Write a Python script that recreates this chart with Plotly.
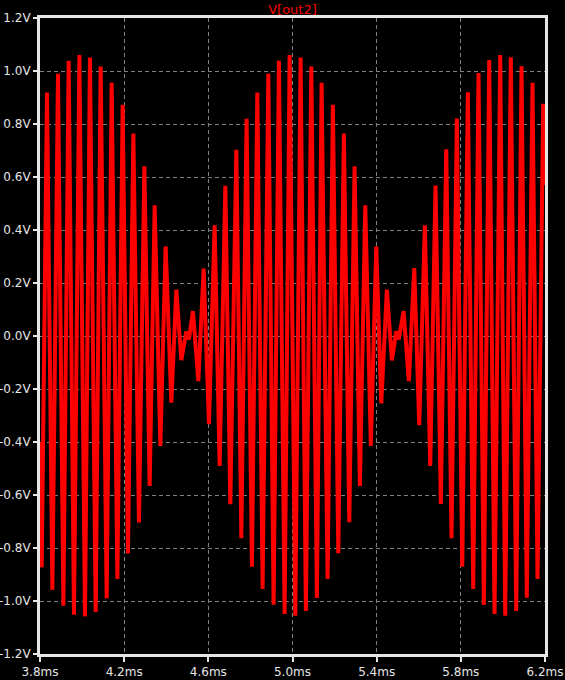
import plotly.graph_objects as go

# Extrema of V(out2) (time in ms, voltage in V)
time_ms = [
    3.8000, 3.8081, 3.8333, 3.8589, 3.8855, 3.9112, 3.9363, 3.9615, 3.9872, 4.0138,
    4.0375, 4.0646, 4.0884, 4.1169, 4.1406, 4.1677, 4.1929, 4.2181, 4.2437, 4.2703,
    4.2960, 4.3211, 4.3449, 4.3720, 4.3971, 4.4242, 4.4480, 4.4717, 4.4955, 4.5078,
    4.5268, 4.5525, 4.5777, 4.6029, 4.6299, 4.6537, 4.6808, 4.7045, 4.7330, 4.7568,
    4.7819, 4.8071, 4.8328, 4.8580, 4.8850, 4.9102, 4.9354, 4.9625, 4.9862, 5.0133,
    5.0385, 5.0637, 5.0893, 5.1159, 5.1382, 5.1667, 5.1919, 5.2176, 5.2442, 5.2698,
    5.2950, 5.3202, 5.3458, 5.3724, 5.3981, 5.4219, 5.4485, 5.4722, 5.4931, 5.5055,
    5.5278, 5.5530, 5.5786, 5.6024, 5.6290, 5.6546, 5.6798, 5.7050, 5.7306, 5.7558,
    5.7810, 5.8067, 5.8333, 5.8589, 5.8841, 5.9093, 5.9349, 5.9601, 5.9872, 6.0109,
    6.0375, 6.0632, 6.0884, 6.1135, 6.1406, 6.1644, 6.1915, 6.2000,
]
v_out2 = [
    -0.400, -0.873, 0.919, -0.958, 0.990, -1.018, 1.039, -1.052, 1.060, -1.058,
    1.051, -1.041, 1.017, -0.990, 0.956, -0.917, 0.873, -0.821, 0.764, -0.704,
    0.640, -0.566, 0.493, -0.415, 0.338, -0.252, 0.175, -0.091, 0.018, -0.013,
    0.094, -0.170, 0.254, -0.333, 0.418, -0.490, 0.567, -0.635, 0.703, -0.763,
    0.820, -0.871, 0.919, -0.955, 0.990, -1.014, 1.039, -1.049, 1.060, -1.056,
    1.051, -1.038, 1.017, -0.989, 0.956, -0.917, 0.873, -0.820, 0.764, -0.703,
    0.640, -0.566, 0.493, -0.415, 0.338, -0.254, 0.175, -0.092, 0.018, -0.013,
    0.094, -0.170, 0.256, -0.337, 0.418, -0.490, 0.568, -0.634, 0.705, -0.763,
    0.821, -0.871, 0.920, -0.955, 0.992, -1.015, 1.041, -1.049, 1.060, -1.056,
    1.052, -1.038, 1.018, -0.988, 0.956, -0.917, 0.876, 0.570,
]

x_tick_vals = [3.8, 4.2, 4.6, 5.0, 5.4, 5.8, 6.2]
x_tick_text = ["3.8ms", "4.2ms", "4.6ms", "5.0ms", "5.4ms", "5.8ms", "6.2ms"]
y_tick_vals = [1.2, 1.0, 0.8, 0.6, 0.4, 0.2, 0.0, -0.2, -0.4, -0.6, -0.8, -1.0, -1.2]
y_tick_text = ["1.2V", "1.0V", "0.8V", "0.6V", "0.4V", "0.2V", "0.0V",
               "-0.2V", "-0.4V", "-0.6V", "-0.8V", "-1.0V", "-1.2V"]

FG = "#e6e6e6"
GRID = "#808080"
FONT = "DejaVu Sans"

fig = go.Figure()
fig.add_trace(go.Scatter(
    x=time_ms, y=v_out2, mode="lines",
    line=dict(color="#ff0000", width=4),
    showlegend=False, hoverinfo="skip",
))

axis_common = dict(
    showline=True, linecolor=FG, linewidth=3, mirror=True,
    ticks="outside", tickwidth=2, tickcolor=FG,
    showgrid=True, gridcolor=GRID, gridwidth=1, griddash="4px,3px",
    zeroline=False, automargin=False,
    tickfont=dict(family=FONT, size=12, color=FG),
)

fig.update_xaxes(range=[3.8, 6.2], tickmode="array", tickvals=x_tick_vals,
                 ticktext=x_tick_text, ticklen=5, **axis_common)
fig.update_yaxes(range=[-1.2, 1.2], tickmode="array", tickvals=y_tick_vals,
                 ticktext=y_tick_text, ticklen=4, **axis_common)

fig.update_layout(
    width=565, height=680,
    paper_bgcolor="black", plot_bgcolor="black",
    margin=dict(l=40, r=20, t=18, b=26, pad=0),
    title=dict(text="V[out2]", x=0.5, xref="paper", xanchor="center",
               y=1 - 9 / 680, yref="container", yanchor="middle",
               font=dict(family=FONT, size=13, color="#ff0000")),
)

fig.write_html(
    "out.html",
    config={"displayModeBar": False},
    post_script="document.body.style.margin='0';document.body.style.background='black';",
)
